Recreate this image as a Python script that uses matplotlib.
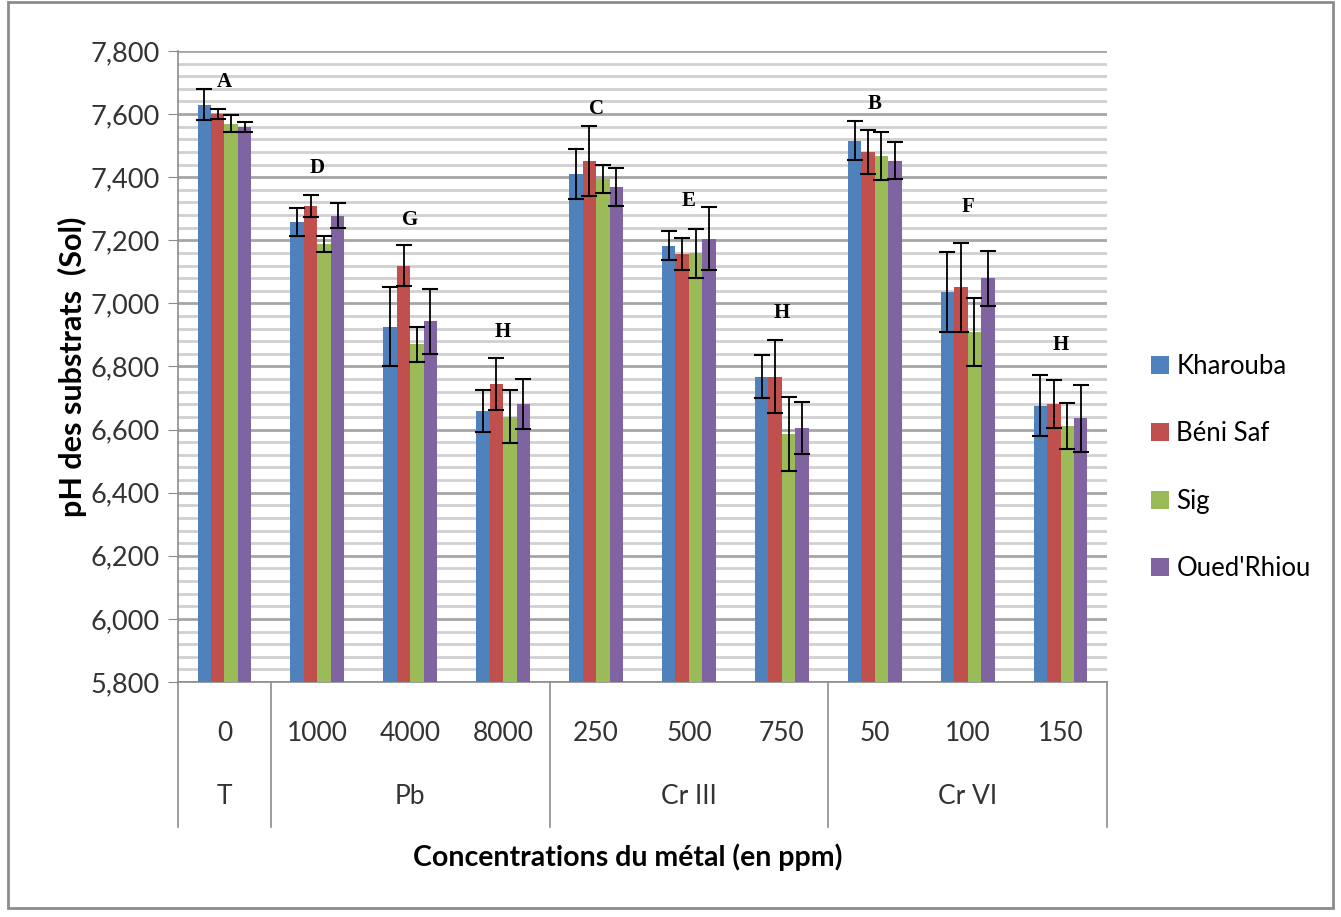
import numpy as np
import matplotlib.pyplot as plt
from matplotlib.patches import Rectangle
from matplotlib.ticker import FuncFormatter, MultipleLocator

plt.rcParams['font.family'] = ['Lato', 'DejaVu Sans']

concentrations = ['0', '1000', '4000', '8000', '250', '500', '750', '50', '100', '150']
groups = ['T', 'Pb', 'Cr III', 'Cr VI']
group_sizes = [1, 3, 3, 3]
sites = ['Kharouba', 'Béni Saf', 'Sig', "Oued'Rhiou"]
colors = ['#4F81BD', '#C0504D', '#9BBB59', '#8064A2']

kharouba = [7630, 7258, 6926, 6659, 7410, 7183, 6768, 7515, 7036, 6676]
beni_saf = [7600, 7309, 7120, 6744, 7451, 7156, 6768, 7480, 7051, 6681]
sig = [7570, 7189, 6870, 6641, 7394, 7159, 6586, 7467, 6908, 6611]
oued_rhiou = [7560, 7278, 6943, 6681, 7370, 7205, 6606, 7452, 7079, 6636]

err_kharouba = [50, 43, 125, 66, 79, 45, 68, 62, 128, 96]
err_beni_saf = [17, 34, 66, 83, 112, 50, 116, 70, 142, 77]
err_sig = [26, 25, 55, 83, 45, 78, 117, 77, 108, 73]
err_oued_rhiou = [16, 40, 102, 78, 60, 100, 82, 59, 88, 106]

letters = ['A', 'D', 'G', 'H', 'C', 'E', 'H', 'B', 'F', 'H']
letter_y = [7703, 7428, 7264, 6910, 7615, 7326, 6969, 7631, 7307, 6868]

values = [kharouba, beni_saf, sig, oued_rhiou]
errors = [err_kharouba, err_beni_saf, err_sig, err_oued_rhiou]

fig = plt.figure(figsize=(13.41, 9.17), dpi=100)
ax = fig.add_axes([178 / 1341, 1 - 682 / 917, 929 / 1341, 631 / 917])

# outer frame of the chart area
fig.patches.append(Rectangle((8 / 1341, 9 / 917), 1325 / 1341, 906 / 917,
                             transform=fig.transFigure, fill=False,
                             edgecolor='#8C8C8C', linewidth=2))

x = np.arange(len(concentrations))
w = 0.145
for i, (vals, errs) in enumerate(zip(values, errors)):
    pos = x + (i - 1.5) * w
    ax.bar(pos, np.array(vals) - 5800, width=w, bottom=5800, color=colors[i],
           label=sites[i], zorder=3)
    ax.errorbar(pos, vals, yerr=errs, fmt='none', ecolor='black',
                elinewidth=1.3, capsize=6, capthick=1.5, zorder=4)

for xi, lab, ly in zip(x, letters, letter_y):
    ax.text(xi, ly, lab, ha='center', va='center', fontsize=15,
            fontweight='bold', family='Liberation Serif')

ax.set_xlim(-0.5, len(concentrations) - 0.5)
ax.set_ylim(5800, 7800)
ax.yaxis.set_major_locator(MultipleLocator(200))
ax.yaxis.set_minor_locator(MultipleLocator(40))
ax.yaxis.set_major_formatter(FuncFormatter(lambda v, p: f'{int(v):,}'))
ax.grid(axis='y', which='major', color='#A6A6A6', linewidth=2, zorder=0)
ax.grid(axis='y', which='minor', color='#D0D0D0', linewidth=2, zorder=0)
ax.set_axisbelow(True)
ax.tick_params(axis='y', which='major', labelsize=19.5, length=7, color='#8C8C8C',
               pad=6, labelcolor='#333333')
ax.tick_params(axis='y', which='minor', length=0)
for s in ['top', 'right']:
    ax.spines[s].set_visible(False)
ax.spines['left'].set_color('#8C8C8C')
ax.spines['bottom'].set_color('#8C8C8C')
ax.spines['left'].set_linewidth(1.2)
ax.spines['bottom'].set_linewidth(1.2)

ax.set_xticks(x)
ax.set_xticklabels(concentrations, fontsize=19, color='#333333')
ax.tick_params(axis='x', length=0, pad=28)

# group row under the tick labels
trans = ax.get_xaxis_transform()
bounds = np.concatenate([[0], np.cumsum(group_sizes)]) - 0.5
for b in bounds:
    ax.plot([b, b], [0, -0.23], transform=trans, color='#8C8C8C',
            linewidth=1.2, clip_on=False)
for g, lo, hi in zip(groups, bounds[:-1], bounds[1:]):
    ax.text((lo + hi) / 2, -0.182, g, transform=trans, ha='center',
            va='center', fontsize=19, color='#333333')

ax.set_ylabel('pH des substrats  (Sol)', fontsize=22, fontweight='bold',
              labelpad=3)
ax.text(0.484, -0.278, 'Concentrations du métal (en ppm)', transform=ax.transAxes,
        ha='center', va='center', fontsize=20.5, fontweight='bold')

ax.legend(loc='center left', bbox_to_anchor=(1.022, 0.34), frameon=False,
          fontsize=18.5, handlelength=0.7, handleheight=0.7, handletextpad=0.3,
          labelspacing=1.65)

fig.savefig('out.png', dpi=100)
